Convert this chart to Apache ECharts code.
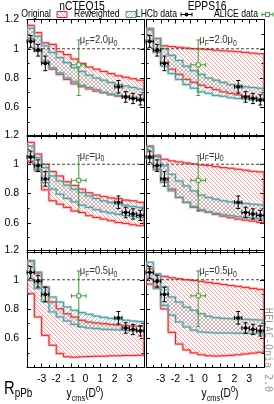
<!DOCTYPE html>
<html><head><meta charset="utf-8">
<script src="https://cdn.jsdelivr.net/npm/echarts@6/dist/echarts.min.js"></script>
<style>html,body{margin:0;padding:0;background:#fff}#c{width:274px;height:404px}</style>
</head><body><div id="c"></div>
<script>
// ---------- data ----------
const binEdges = [-4,-3.5,-3,-2.5,-2,-1.5,-1,-0.5,0,0.5,1,1.5,2,2.5,3,3.5,4];
const pdfTitles = ['nCTEQ15', 'EPPS16'];
const scaleFactors = ['2.0', '', '0.5']; // muF = f * mu0
const refLine = 1;

// nCTEQ15, muF = 2.0 mu0
const nc20_origHi = [1.16,1.11,1.04,1.03,0.98,0.96,0.93,0.90,0.875,0.86,0.845,0.83,0.815,0.805,0.795,0.785];
const nc20_origLo = [1.06,0.985,0.905,0.86,0.825,0.79,0.76,0.74,0.725,0.71,0.70,0.685,0.675,0.67,0.66,0.65];
const nc20_rewHi  = [1.14,1.085,1.02,0.975,0.94,0.905,0.87,0.845,0.82,0.80,0.785,0.77,0.755,0.745,0.735,0.725];
const nc20_rewLo  = [1.07,0.995,0.915,0.87,0.835,0.80,0.775,0.75,0.735,0.72,0.70,0.69,0.68,0.675,0.665,0.66];
// EPPS16, muF = 2.0 mu0
const ep20_origHi = [1.13,1.07,1.02,1.015,1.01,1.005,1.0,0.998,0.995,0.99,0.986,0.984,0.98,0.975,0.97,0.966];
const ep20_origLo = [1.05,0.985,0.905,0.86,0.825,0.79,0.77,0.75,0.735,0.72,0.705,0.695,0.685,0.675,0.665,0.655];
const ep20_rewHi  = [1.14,1.07,1.0,0.955,0.92,0.88,0.85,0.825,0.80,0.785,0.77,0.755,0.75,0.74,0.735,0.73];
const ep20_rewLo  = [1.05,0.975,0.88,0.83,0.79,0.755,0.73,0.705,0.695,0.68,0.675,0.665,0.66,0.655,0.65,0.645];
// nCTEQ15, muF = mu0
const nc10_origHi = [1.15,1.07,1.0,0.95,0.92,0.88,0.855,0.83,0.805,0.79,0.78,0.77,0.765,0.755,0.75,0.74];
const nc10_origLo = [1.02,0.955,0.825,0.75,0.727,0.705,0.68,0.67,0.648,0.636,0.625,0.614,0.602,0.595,0.586,0.58];
const nc10_rewHi  = [1.125,1.045,0.977,0.92,0.886,0.857,0.83,0.807,0.784,0.766,0.75,0.739,0.727,0.72,0.711,0.705];
const nc10_rewLo  = [1.045,0.966,0.875,0.83,0.795,0.766,0.743,0.72,0.705,0.689,0.675,0.666,0.657,0.65,0.643,0.636];
// EPPS16, muF = mu0
const ep10_origHi = [1.125,1.061,1.034,1.023,1.016,1.009,1.002,0.995,0.991,0.984,0.977,0.973,0.966,0.959,0.952,0.948];
const ep10_origLo = [1.045,0.966,0.886,0.83,0.773,0.739,0.705,0.682,0.67,0.657,0.645,0.634,0.625,0.618,0.611,0.602];
const ep10_rewHi  = [1.12,1.052,0.989,0.932,0.886,0.852,0.818,0.789,0.773,0.761,0.75,0.743,0.736,0.732,0.727,0.723];
const ep10_rewLo  = [1.039,0.961,0.875,0.818,0.773,0.739,0.711,0.689,0.675,0.664,0.655,0.648,0.641,0.636,0.632,0.625];
// nCTEQ15, muF = 0.5 mu0
const nc05_origHi = [1.127,1.045,0.95,0.848,0.802,0.768,0.745,0.723,0.711,0.705,0.70,0.695,0.691,0.686,0.684,0.682];
const nc05_origLo = [0.905,0.745,0.62,0.552,0.495,0.473,0.47,0.473,0.475,0.477,0.477,0.48,0.48,0.482,0.482,0.484];
const nc05_rewHi  = [1.132,1.052,0.95,0.882,0.848,0.814,0.791,0.775,0.764,0.752,0.743,0.736,0.73,0.723,0.718,0.714];
const nc05_rewLo  = [0.995,0.939,0.848,0.78,0.745,0.718,0.695,0.677,0.67,0.666,0.661,0.659,0.657,0.655,0.652,0.65];
// EPPS16, muF = 0.5 mu0
const ep05_origHi = [1.075,1.036,1.023,1.014,1.007,1.0,0.995,0.989,0.982,0.975,0.968,0.961,0.955,0.948,0.941,0.934];
const ep05_origLo = [0.97,0.95,0.80,0.64,0.56,0.52,0.50,0.487,0.48,0.478,0.48,0.483,0.487,0.492,0.498,0.504];
const ep05_rewHi  = [1.12,1.04,0.95,0.882,0.848,0.814,0.791,0.768,0.75,0.741,0.736,0.734,0.732,0.73,0.727,0.725];
const ep05_rewLo  = [1.007,0.939,0.825,0.757,0.711,0.677,0.655,0.643,0.639,0.636,0.636,0.636,0.634,0.634,0.632,0.632];

// LHCb data
const lhcbX    = [-3.75,-3.25,-2.75,2.25,2.75,3.25,3.75];
const lhcbXErr = [0.25,0.25,0.25,0.25,0.25,0.25,0.25];
const lhcbY    = [1.05,0.99,0.90,0.74,0.67,0.66,0.65];
const lhcbYErr = [0.04,0.04,0.05,0.043,0.036,0.035,0.035];
// ALICE data
const aliceX   = [-0.46];
const aliceXLo = [-0.96];
const aliceXHi = [0.04];
const aliceY   = [0.89];
const aliceYLo = [0.68];
const aliceYHi = [1.06];

const panels = [
  {origHi:nc20_origHi, origLo:nc20_origLo, rewHi:nc20_rewHi, rewLo:nc20_rewLo},
  {origHi:ep20_origHi, origLo:ep20_origLo, rewHi:ep20_rewHi, rewLo:ep20_rewLo},
  {origHi:nc10_origHi, origLo:nc10_origLo, rewHi:nc10_rewHi, rewLo:nc10_rewLo},
  {origHi:ep10_origHi, origLo:ep10_origLo, rewHi:ep10_rewHi, rewLo:ep10_rewLo},
  {origHi:nc05_origHi, origLo:nc05_origLo, rewHi:nc05_rewHi, rewLo:nc05_rewLo},
  {origHi:ep05_origHi, origLo:ep05_origLo, rewHi:ep05_rewHi, rewLo:ep05_rewLo}
];

// ---------- styling ----------
const FONT = "'Liberation Sans', Arial, Helvetica, sans-serif";
const NARROW = 0.82; // horizontal squeeze to mimic a narrow Helvetica
function hatch(color, dir, s){
  const c = document.createElement('canvas'); c.width = s; c.height = s;
  const g = c.getContext('2d'); g.strokeStyle = color; g.lineWidth = 1;
  for (const o of [-s, 0, s]) {
    g.beginPath();
    if (dir > 0) { g.moveTo(o, 0); g.lineTo(o + s, s); } else { g.moveTo(o, s); g.lineTo(o + s, 0); }
    g.stroke();
  }
  return c;
}
const redPat  = {image: hatch('rgba(255,95,95,0.6)', 1, 4), repeat: 'repeat'};
const tealPat = {image: hatch('rgba(80,150,155,0.55)', -1, 4), repeat: 'repeat'};
const RED = '#ff1a1a', RED_HALO = 'rgba(255,110,110,0.45)';
const TEAL = '#4f9a9c', TEAL_HALO = 'rgba(120,190,195,0.55)';
const GREEN = '#3b9a3b';

const gridPos = [
  {left:27, top:19.5}, {left:146, top:19.5},
  {left:27, top:135},  {left:146, top:135},
  {left:27, top:250.5},{left:146, top:250.5}
];
const grids = gridPos.map((p,i)=>({left:p.left, top:p.top, width:(i%2?118:117), height:117}));

const xAxes = [], yAxes = [], series = [];
for (let g = 0; g < 6; g++) {
  const bottomRow = g >= 4, leftCol = g % 2 === 0;
  for (const pos of ['bottom','top']) {
    xAxes.push({type:'value', gridIndex:g, min:-4, max:4, interval:1, position:pos,
      axisLine:{show:true, onZero:false, lineStyle:{color:'#000', width:1}},
      axisTick:{show:true, inside:true, length:4, lineStyle:{color:'#000'}},
      minorTick:{show:true, splitNumber:2, length:2.5, lineStyle:{color:'#000'}},
      splitLine:{show:false},
      axisLabel:{show: pos==='bottom' && bottomRow, showMinLabel:false, showMaxLabel:false,
        color:'#000', fontSize:10.5, fontFamily:FONT, margin:6}
    });
  }
  for (const pos of ['left','right']) {
    yAxes.push({type:'value', gridIndex:g, min:0.4, max:1.2, interval:0.2, position:pos,
      axisLine:{show:true, onZero:false, lineStyle:{color:'#000', width:1}},
      axisTick:{show:true, inside:true, length:4, lineStyle:{color:'#000'}},
      minorTick:{show:true, splitNumber:2, length:2.5, lineStyle:{color:'#000'}},
      splitLine:{show:false},
      axisLabel:{show: pos==='left' && leftCol, showMinLabel:false, color:'#000', fontSize:10.5,
        fontFamily:FONT, margin:8, formatter:v=>String(Math.round(v*10)/10)}
    });
  }
}

function bandSeries(g, lo, hi, pat, stroke, halo, z){
  return {type:'custom', xAxisIndex:2*g, yAxisIndex:2*g, z:z, silent:true, clip:true,
    data:[[binEdges[0], lo[0]]], encode:{x:0, y:1},
    renderItem(params, api){
      const up = [], dn = [];
      for (let k = 0; k < lo.length; k++) {
        up.push(api.coord([binEdges[k], hi[k]]), api.coord([binEdges[k+1], hi[k]]));
        dn.push(api.coord([binEdges[k], lo[k]]), api.coord([binEdges[k+1], lo[k]]));
      }
      const pts = up.concat(dn.reverse());
      return {type:'group', children:[
        {type:'polygon', shape:{points:pts}, style:{fill:pat, stroke:halo, lineWidth:2.6}},
        {type:'polygon', shape:{points:pts}, style:{fill:null, stroke:stroke, lineWidth:1}}
      ]};
    }};
}

function errSeries(g, rows, color, marker, z){
  return {type:'custom', xAxisIndex:2*g, yAxisIndex:2*g, z:z, silent:true, clip:false,
    data: rows, encode:{x:0, y:1},
    renderItem(params, api){
      const x = api.value(0), y = api.value(1);
      const c = api.coord([x, y]), L = api.coord([api.value(2), y]), R = api.coord([api.value(3), y]);
      const B = api.coord([x, api.value(4)]), T = api.coord([x, api.value(5)]);
      const cap = 2, st = {stroke: color, lineWidth: 1};
      const ln = (x1,y1,x2,y2)=>({type:'line', shape:{x1,y1,x2,y2}, style:st});
      const ch = [
        ln(L[0], c[1], R[0], c[1]), ln(c[0], T[1], c[0], B[1]),
        ln(c[0]-cap, T[1], c[0]+cap, T[1]), ln(c[0]-cap, B[1], c[0]+cap, B[1]),
        ln(L[0], c[1]-cap, L[0], c[1]+cap), ln(R[0], c[1]-cap, R[0], c[1]+cap)
      ];
      if (marker === 'dot') ch.push({type:'circle', shape:{cx:c[0], cy:c[1], r:1.9}, style:{fill:color}});
      else ch.push({type:'rect', shape:{x:c[0]-2, y:c[1]-2, width:4, height:4}, style:{fill:'#fff', stroke:color, lineWidth:1}});
      return {type:'group', children: ch};
    }};
}

const lhcbRows = lhcbX.map((x,i)=>[x, lhcbY[i], x-lhcbXErr[i], x+lhcbXErr[i], lhcbY[i]-lhcbYErr[i], lhcbY[i]+lhcbYErr[i]]);
const aliceRows = aliceX.map((x,i)=>[x, aliceY[i], aliceXLo[i], aliceXHi[i], aliceYLo[i], aliceYHi[i]]);

for (let g = 0; g < 6; g++) {
  const p = panels[g];
  series.push(bandSeries(g, p.origLo, p.origHi, redPat, RED, RED_HALO, 2));
  series.push(bandSeries(g, p.rewLo, p.rewHi, tealPat, TEAL, TEAL_HALO, 3));
  series.push({type:'line', xAxisIndex:2*g, yAxisIndex:2*g, z:4, silent:true, symbol:'none',
    data:[[binEdges[0], refLine],[binEdges[binEdges.length-1], refLine]],
    lineStyle:{color:'#444', width:1, type:[3,2]}});
  series.push(errSeries(g, aliceRows, GREEN, 'square', 5));
  series.push(errSeries(g, lhcbRows, '#000', 'dot', 6));
}

const chart = echarts.init(document.getElementById('c'), null, {renderer:'canvas'});
chart.setOption({animation:false, backgroundColor:'#fff', grid:grids, xAxis:xAxes, yAxis:yAxes, series:series});

// ---------- annotations ----------
const graphics = [];
const txt = (x, y, text, font, align) => ({type:'text', x, y, scaleX:NARROW, silent:true,
  style:{text, font, fill:'#000', align, verticalAlign:'middle', textAlign:align, textVerticalAlign:'middle'}});
// titles
graphics.push(txt(82, 6.5, pdfTitles[0], '12.5px ' + FONT, 'center'));
graphics.push(txt(207, 6.5, pdfTitles[1], '12.5px ' + FONT, 'center'));
// legend
const LY = 14.5, LF = '10.5px ' + FONT;
graphics.push(txt(51, LY, 'Original', LF, 'right'));
graphics.push({type:'rect', shape:{x:57, y:11.5, width:10, height:6}, style:{fill:redPat, stroke:RED, lineWidth:1}});
graphics.push(txt(119.5, LY, 'Reweighted', LF, 'right'));
graphics.push({type:'rect', shape:{x:126, y:11.5, width:10, height:6}, style:{fill:tealPat, stroke:TEAL, lineWidth:1}});
graphics.push(txt(177, LY, 'LHCb data', LF, 'right'));
graphics.push(txt(258, LY, 'ALICE data', LF, 'right'));
function legendErr(x0, x1, color, marker){
  const cx = (x0+x1)/2, st = {stroke:color, lineWidth:1};
  graphics.push({type:'line', shape:{x1:x0, y1:LY, x2:x1, y2:LY}, style:st});
  graphics.push({type:'line', shape:{x1:x0, y1:LY-2, x2:x0, y2:LY+2}, style:st});
  graphics.push({type:'line', shape:{x1:x1, y1:LY-2, x2:x1, y2:LY+2}, style:st});
  if (marker === 'dot') graphics.push({type:'circle', shape:{cx, cy:LY, r:1.9}, style:{fill:color}});
  else graphics.push({type:'rect', shape:{x:cx-2, y:LY-2, width:4, height:4}, style:{fill:'#fff', stroke:color, lineWidth:1}});
}
legendErr(181, 192, '#000', 'dot');
legendErr(262, 273, GREEN, 'square');

// muF labels anchored at top of ALICE error bar
const muRich = {m:{font:'11.5px ' + FONT, lineHeight:16, verticalAlign:'middle', fill:'#333'},
                s:{font:'8.5px ' + FONT, lineHeight:8, verticalAlign:'bottom', fill:'#333'}};
for (let g = 0; g < 6; g++) {
  const f = scaleFactors[Math.floor(g/2)];
  const pt = chart.convertToPixel({gridIndex:g}, [aliceX[0], aliceYHi[0]]);
  graphics.push({type:'text', x:pt[0]+1, y:pt[1], scaleX:NARROW, silent:true, z:10,
    style:{text:'{m|μ}{s|F}{m|=' + f + 'μ}{s|0}', rich:muRich, align:'left', verticalAlign:'middle',
      textAlign:'left', textVerticalAlign:'middle'}});
}
// x axis titles
const xRich = {m:{font:'12.5px ' + FONT, lineHeight:18, verticalAlign:'middle', fill:'#000'},
               s:{font:'9px ' + FONT, lineHeight:8, verticalAlign:'bottom', fill:'#000'},
               u:{font:'9px ' + FONT, lineHeight:8, verticalAlign:'top', fill:'#000'}};
for (const cx of [85, 220]) {
  graphics.push({type:'text', x:cx, y:394, scaleX:NARROW, silent:true,
    style:{text:'{m|y}{s|cms}{m|(D}{u|0}{m|)}', rich:xRich, align:'center', verticalAlign:'middle',
      textAlign:'center', textVerticalAlign:'middle'}});
}
// y axis title
graphics.push({type:'text', x:4, y:389, scaleX:NARROW, silent:true,
  style:{text:'{m|R}{s|pPb}', rich:{m:{font:'18px ' + FONT, lineHeight:22, verticalAlign:'middle', fill:'#000'},
    s:{font:'12px ' + FONT, lineHeight:11, verticalAlign:'bottom', fill:'#000'}},
    align:'left', verticalAlign:'middle', textAlign:'left', textVerticalAlign:'middle'}});
// program tag
graphics.push({type:'text', x:268, y:350, rotation:-Math.PI/2, silent:true,
  style:{text:'HELAC-Onia 2.0', font:'10px DejaVu Sans Mono, monospace', fill:'#999',
    align:'center', verticalAlign:'middle', textAlign:'center', textVerticalAlign:'middle'}});

chart.setOption({graphic: graphics});
</script>
</body></html>
